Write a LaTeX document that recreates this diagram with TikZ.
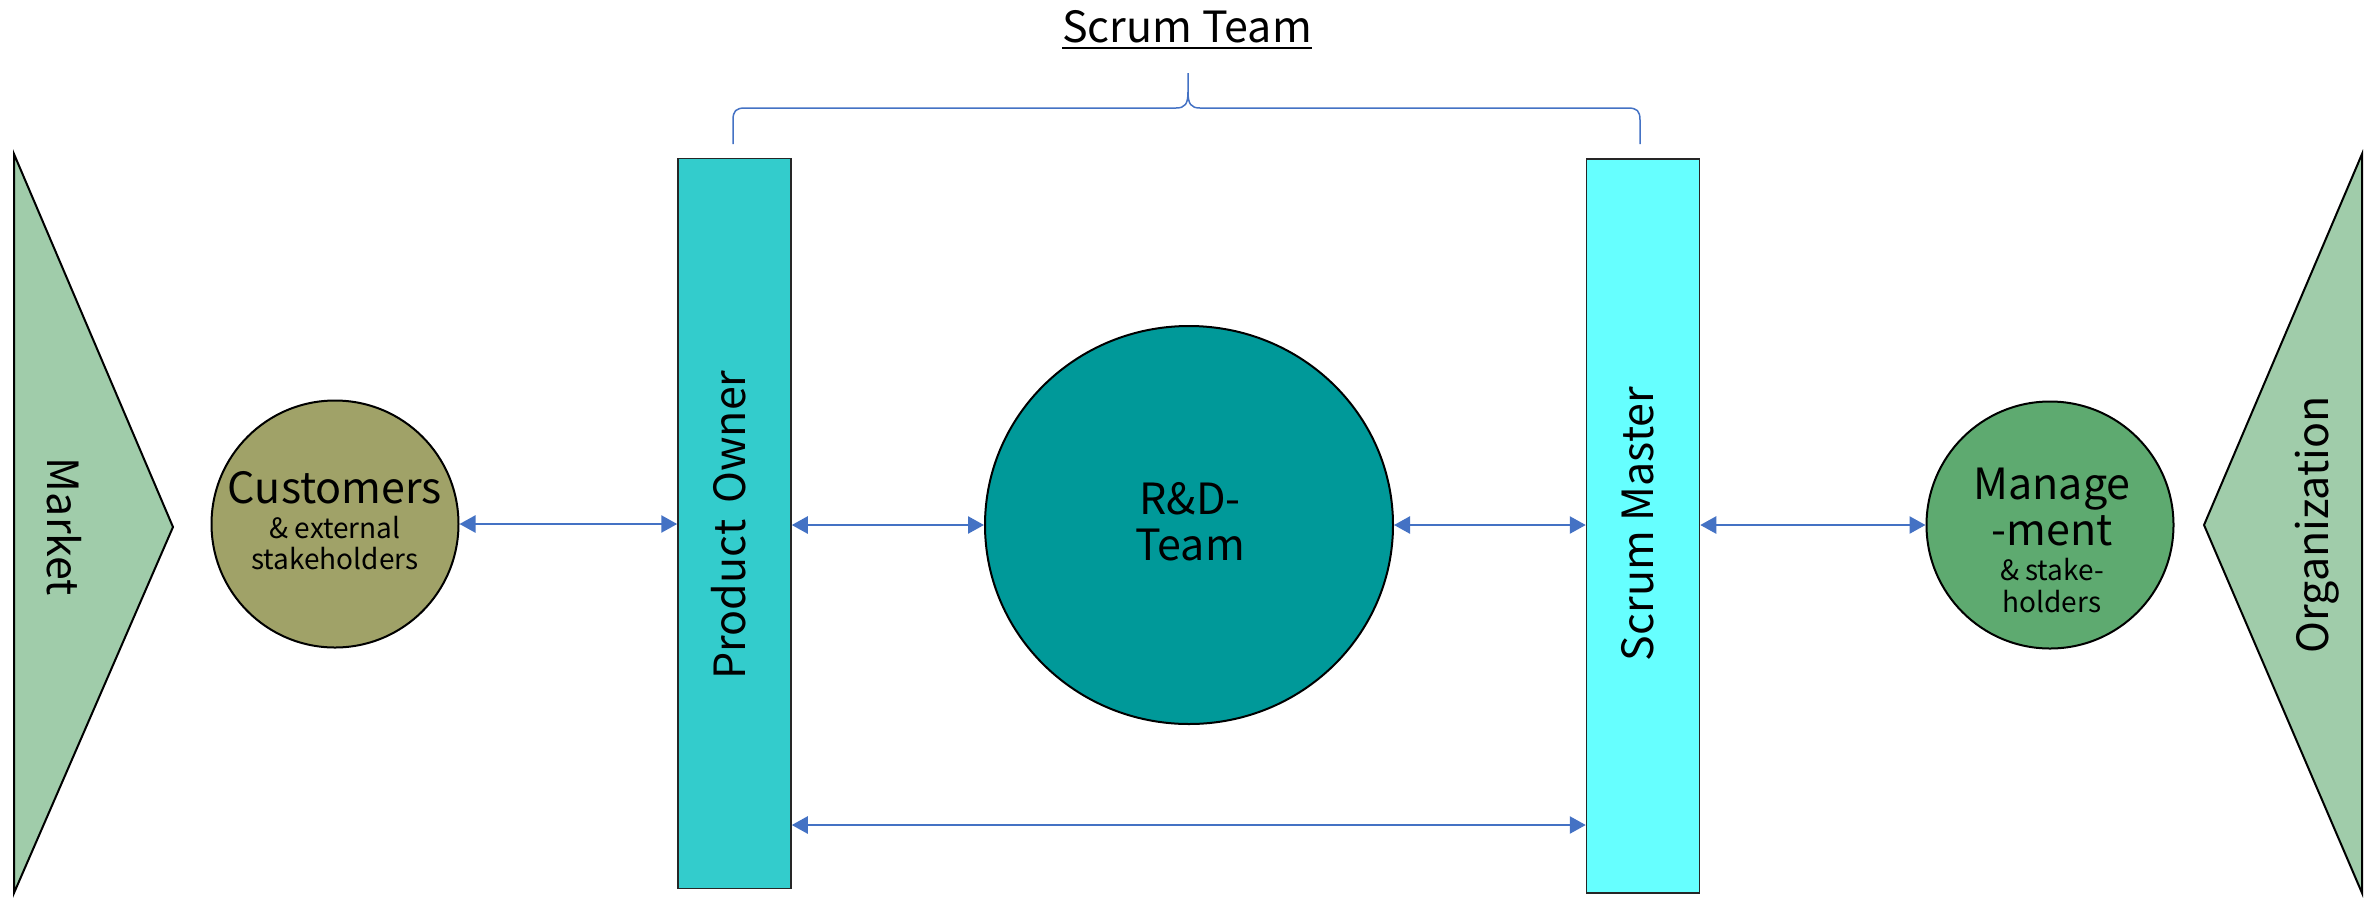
\documentclass[tikz,border=0pt]{standalone}
\usepackage{fontspec}
\setmainfont{Noto Sans CJK JP}
\usetikzlibrary{shapes.geometric,arrows.meta}
\definecolor{trigreen}{RGB}{160,204,170}
\definecolor{olive}{RGB}{160,162,104}
\definecolor{rdteal}{RGB}{0,153,153}
\definecolor{potur}{RGB}{51,204,204}
\definecolor{smcyan}{RGB}{102,255,255}
\definecolor{mgreen}{RGB}{94,170,112}
\definecolor{arrblue}{RGB}{68,114,196}
\begin{document}
\begin{tikzpicture}[x=1pt,y=-1pt,
  tri/.style={draw=black,line width=2pt,fill=trigreen,line join=miter},
  bigtxt/.style={font=\fontsize{43}{50}\selectfont,inner sep=0pt,text=black},
  smalltxt/.style={font=\fontsize{28}{32}\selectfont,inner sep=0pt,text=black},
  roundbox/.style={circle,draw=black,line width=2pt,minimum size=247pt,inner sep=0pt},
  barbox/.style={rectangle,draw=black!85,line width=1.5pt,minimum width=113pt,inner sep=0pt},
  arr/.style={draw=arrblue,line width=2.5pt,{Triangle[length=16pt,width=17pt]}-{Triangle[length=16pt,width=17pt]}},
  bracestyle/.style={draw=arrblue,line width=1.5pt}
]
\useasboundingbox (0,0) rectangle (2377,898);

% side triangles
\draw[tri] (14,154) -- (173,527) -- (14,893) -- cycle;
\draw[tri] (2362,154) -- (2204,525) -- (2362,893) -- cycle;
\node[bigtxt,rotate=-90,anchor=base] (market) at (47,527) {Market};
\node[bigtxt,rotate=90,anchor=base] (org) at (2328,525) {Organization};

% main shapes
\node[roundbox,fill=olive] (cust) at (335,524) {};
\node[roundbox,fill=mgreen] (mgmt) at (2050,525) {};
\node[ellipse,draw=black,line width=2pt,fill=rdteal,minimum width=408pt,minimum height=398pt,inner sep=0pt] (rd) at (1189,525) {};
\node[barbox,fill=potur,minimum height=730pt] (po) at (734.5,523.5) {};
\node[barbox,fill=smcyan,minimum height=734pt] (sm) at (1643,526) {};

% texts
\node[bigtxt,rotate=90,anchor=base] (potext) at (745,525) {Product\hspace{0.38em}Owner};
\node[bigtxt,rotate=90,anchor=base] (smtext) at (1653,524) {Scrum Master};

\node[bigtxt,anchor=base] (c1) at (335,503) {Customers};
\node[smalltxt,anchor=base] (c2) at (335,538) {\& external};
\node[smalltxt,anchor=base] (c3) at (335,569) {stakeholders};

\node[bigtxt,anchor=base] (r1) at (1190,514) {R\&D-};
\node[bigtxt,anchor=base] (r2) at (1190,560) {Team};

\node[bigtxt,anchor=base] (m1) at (2052,499) {Manage};
\node[bigtxt,anchor=base] (m2) at (2052,545) {-ment};
\node[smalltxt,anchor=base] (m3) at (2052,580) {\& stake-};
\node[smalltxt,anchor=base] (m4) at (2052,612) {holders};

% connectors
\draw[arr] (cust.east) -- (cust.east -| po.west);
\draw[arr] (po.east |- rd.west) -- (rd.west);
\draw[arr] (rd.east) -- (rd.east -| sm.west);
\draw[arr] (sm.east |- mgmt.west) -- (mgmt.west);
\draw[arr] (po.east |- 0,825) -- (sm.west |- 0,825);

% brace and title
\draw[bracestyle] (733,144) -- (733,120) .. controls (733,111) and (736,108) .. (745,108) -- (1176,108) .. controls (1185,108) and (1188,104) .. (1188,92) -- (1188,73);
\draw[bracestyle] (1188,92) .. controls (1188,104) and (1191,108) .. (1200,108) -- (1628,108) .. controls (1637,108) and (1640,111) .. (1640,120) -- (1640,144);
\node[bigtxt,anchor=base] (title) at (1187,42) {Scrum Team};
\draw[line width=2pt] ([yshift=-6pt]title.base west) -- ([yshift=-6pt]title.base east);
\end{tikzpicture}
\end{document}
